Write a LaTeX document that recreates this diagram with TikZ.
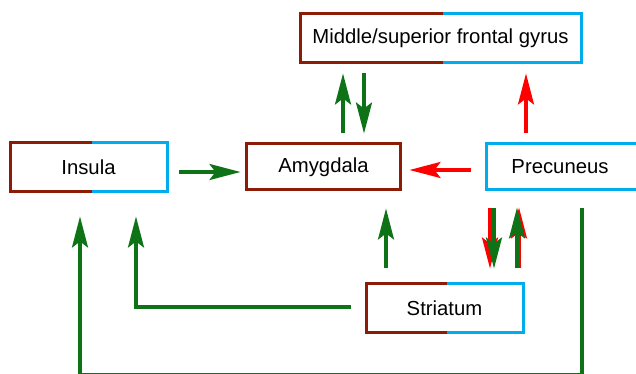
\documentclass[tikz,border=0pt]{standalone}
\usepackage{fontspec}
\setmainfont{Liberation Sans}
\usetikzlibrary{arrows.meta,calc}
\definecolor{brownc}{RGB}{140,28,8}
\definecolor{bluec}{RGB}{0,172,236}
\definecolor{greenc}{RGB}{14,115,22}
\definecolor{redc}{RGB}{255,0,0}
\newcommand\splitbox[2]{%
  \draw[brownc,line width=3pt,line join=miter] ([xshift=#2]#1.north) -- (#1.north west) -- (#1.south west) -- ([xshift=#2]#1.south);
  \draw[bluec,line width=3pt,line join=miter] ([xshift=#2]#1.north) -- (#1.north east) -- (#1.south east) -- ([xshift=#2]#1.south);
}
\tikzset{
  boxnode/.style={minimum width=154pt, minimum height=46pt, inner sep=0pt,
    font=\fontsize{20.3}{24}\selectfont, line width=3pt},
  arr/.style={line width=3.2pt, -{Stealth[length=31pt,width=16pt,inset=6pt]}},
  garr/.style={arr, greenc},
  rarr/.style={arr, redc},
}
\begin{document}
\begin{tikzpicture}[x=1pt,y=1pt]
\useasboundingbox (0,0) rectangle (636,374);
\clip (0,0) rectangle (636,374);
\fill[white] (0,0) rectangle (636,374);
% nodes
\node[boxnode, minimum width=278pt] (msfg) at (440.5,336) {Middle/superior frontal gyrus};
\node[boxnode] (ins) at (88.5,207) {Insula};
\node[boxnode, draw=brownc] (amy) at (323.5,207) {Amygdala};
\node[boxnode, draw=bluec] (pre) at (563.5,207) {\hspace*{-7pt}Precuneus};
\node[boxnode] (str) at (444.5,66) {Striatum};
\splitbox{msfg}{2.5pt}
\splitbox{ins}{3pt}
\splitbox{str}{2pt}
% connectors
\draw[garr] ($(ins.east)+(11.5,-5)$) -- ($(amy.west)+(-4.5,-5)$);
\draw[garr] ($(amy.north)+(19.5,9)$) -- ($(msfg.south)+(-97.5,-11)$);
\draw[garr] ($(msfg.south)+(-76.5,-11)$) -- ($(amy.north)+(40.5,9)$);
\draw[rarr] ($(pre.north)+(-37.5,9)$) -- ($(msfg.south)+(85.5,-11)$);
\draw[rarr] ($(pre.west)+(-14.5,-3)$) -- ($(amy.east)+(7.5,-3)$);
\draw[garr] ($(str.north)+(-58.5,15)$) -- ($(amy.south)+(62.5,-17)$);
% Precuneus <-> Striatum (overlapping red/green pairs)
\draw[rarr] ($(pre.south)+(-73.5,-17)$) -- ($(str.north)+(45.5,15)$);
\draw[garr] ($(pre.south)+(-69.5,-17)$) -- ($(str.north)+(49.5,15)$);
\draw[rarr] ($(str.north)+(74.5,15)$) -- ($(pre.south)+(-44.5,-16)$);
\draw[garr] ($(str.north)+(72.5,15)$) -- ($(pre.south)+(-46.5,-16)$);
% long return lines to Insula
\coordinate (pstart) at ($(pre.south)+(18.5,-17)$);
\coordinate (bottom) at ($(pstart)+(0,-166.2)$);
\draw[garr, line join=miter] (pstart) -- (bottom) -| ($(ins.south)+(-8.5,-25)$);
\draw[garr, line join=miter] ($(str.west)+(-15.5,1)$) -| ($(ins.south)+(47.5,-25)$);
\end{tikzpicture}
\end{document}
